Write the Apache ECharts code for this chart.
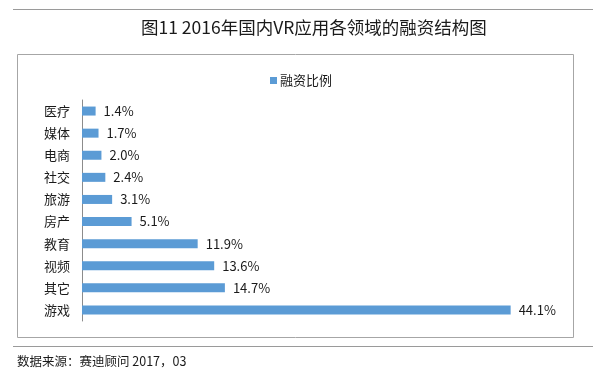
<!DOCTYPE html>
<html>
<head>
    <meta charset="UTF-8">
    <title>融资结构图</title>
    <script src="https://cdn.jsdelivr.net/npm/echarts@6/dist/echarts.min.js"></script>
</head>
<body style="margin:0;background:#ffffff">
    <div id="main" style="width:602px;height:376px;"></div>
    <script>
        // 2016年国内VR应用各领域融资比例 (%)
        var categories = ['医疗', '媒体', '电商', '社交', '旅游', '房产', '教育', '视频', '其它', '游戏'];
        var ratio = [1.4, 1.7, 2.0, 2.4, 3.1, 5.1, 11.9, 13.6, 14.7, 44.1];

        var font = '"Noto Sans CJK SC", "Noto Sans", sans-serif';
        var chart = echarts.init(document.getElementById('main'), null, {renderer: 'canvas'});

        chart.setOption({
            backgroundColor: '#ffffff',
            animation: false,
            title: {
                text: '图11 2016年国内VR应用各领域的融资结构图',
                left: 136,
                top: 14,
                textStyle: {fontFamily: font, fontSize: 17.5, fontWeight: 'normal', color: '#1a1a1a'}
            },
            legend: {
                data: ['融资比例'],
                top: 69,
                left: 'center',
                icon: 'rect',
                itemWidth: 7,
                itemHeight: 7,
                itemGap: 4,
                textStyle: {fontFamily: font, fontSize: 13, color: '#1a1a1a', padding: [0, 0, 0, -2]}
            },
            grid: {left: 82, top: 100, bottom: 55, right: 34},
            xAxis: {
                type: 'value',
                min: 0,
                max: 50,
                show: false
            },
            yAxis: {
                type: 'category',
                data: categories,
                inverse: true,
                axisLine: {lineStyle: {color: '#8c8c8c', width: 1}},
                axisTick: {show: false},
                axisLabel: {fontFamily: font, fontSize: 13, color: '#1a1a1a', margin: 12}
            },
            series: [{
                name: '融资比例',
                type: 'bar',
                data: ratio,
                barWidth: 9,
                itemStyle: {color: '#5b9bd5'},
                label: {
                    show: true,
                    position: 'right',
                    distance: 8,
                    formatter: function (p) { return p.value.toFixed(1) + '%'; },
                    fontFamily: font,
                    fontSize: 13,
                    color: '#1a1a1a'
                }
            }],
            graphic: [
                {type: 'line', shape: {x1: 13, y1: 9.5, x2: 593, y2: 9.5}, style: {stroke: '#9a9a9a', lineWidth: 1}},
                {type: 'rect', shape: {x: 17.5, y: 54.5, width: 556, height: 283}, style: {fill: 'none', stroke: '#a6a6a6', lineWidth: 1}},
                {type: 'line', shape: {x1: 13, y1: 346.5, x2: 593, y2: 346.5}, style: {stroke: '#9a9a9a', lineWidth: 1}},
                {type: 'text', left: 17, top: 355, style: {text: '数据来源：赛迪顾问 2017，03', font: '12.5px ' + font, fill: '#1a1a1a'}}
            ]
        });
    </script>
</body>
</html>
